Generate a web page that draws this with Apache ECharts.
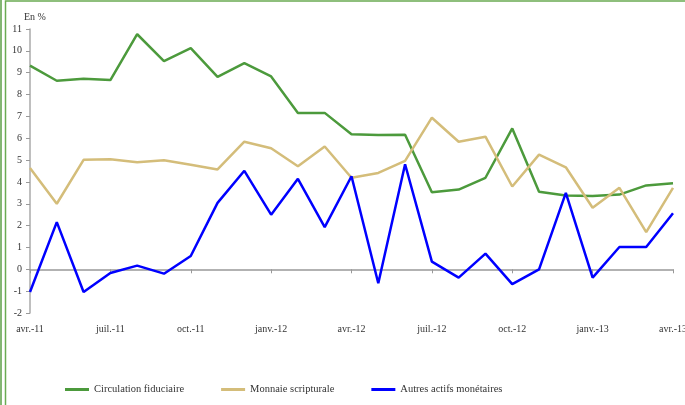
<!DOCTYPE html>
<html>
<head>
<meta charset="utf-8">
<script src="https://cdn.jsdelivr.net/npm/echarts@6/dist/echarts.min.js"></script>
<style>
html,body{margin:0;padding:0;background:#fff;}
#c{width:685px;height:405px;}
</style>
</head>
<body>
<div id="c"></div>
<script>
const months = ['avr.-11','mai-11','juin-11','juil.-11','août-11','sept.-11','oct.-11','nov.-11','déc.-11',
  'janv.-12','févr.-12','mars-12','avr.-12','mai-12','juin-12','juil.-12','août-12','sept.-12','oct.-12','nov.-12','déc.-12',
  'janv.-13','févr.-13','mars-13','avr.-13'];
const circulationFiduciaire = [9.32,8.63,8.72,8.66,10.76,9.53,10.12,8.81,9.44,8.83,7.16,7.16,6.18,6.15,6.16,3.53,3.65,4.19,6.45,3.55,3.38,3.36,3.42,3.84,3.94];
const monnaieScripturale = [4.64,3.00,5.01,5.04,4.90,4.99,4.79,4.57,5.84,5.54,4.72,5.62,4.19,4.41,4.96,6.94,5.84,6.07,3.79,5.25,4.67,2.82,3.73,1.70,3.73];
const autresActifs = [-1.04,2.16,-1.04,-0.17,0.17,-0.20,0.61,3.04,4.51,2.50,4.14,1.93,4.26,-0.64,4.81,0.35,-0.38,0.72,-0.68,0.00,3.50,-0.38,1.02,1.02,2.57];
const seriesNames = ['Circulation fiduciaire','Monnaie scripturale','Autres actifs monétaires'];
const unitLabel = 'En %';

const font = 'Liberation Serif';
const txt = '#333333';
const chart = echarts.init(document.getElementById('c'), null, {renderer:'canvas'});
chart.setOption({
  animation:false,
  backgroundColor:'#ffffff',
  graphic:[
    {type:'line', shape:{x1:1,y1:0,x2:1,y2:405}, style:{stroke:'#5a9e45',lineWidth:1.5}},
    {type:'rect', shape:{x:5.5,y:1,width:720,height:500}, style:{fill:'none',stroke:'#6aab52',lineWidth:1.5}}
  ],
  title:{text:unitLabel,left:19,top:7,textStyle:{fontFamily:font,fontSize:10,fontWeight:'normal',color:txt}},
  legend:{
    left:60, top:379, itemGap:37, itemWidth:24, itemHeight:3,
    icon:'rect',
    textStyle:{fontFamily:font,fontSize:10.5,color:txt},
    data:seriesNames
  },
  grid:{left:30,right:12,top:29,bottom:92,containLabel:false,outerBoundsMode:'none'},
  xAxis:{
    type:'category', data:months, boundaryGap:false,
    axisLine:{onZero:true,lineStyle:{color:'#999999',width:1.5}},
    axisTick:{show:true,interval:2,length:4,lineStyle:{color:'#999999'}},
    axisLabel:{interval:2,margin:11,fontFamily:font,fontSize:10,color:txt,showMaxLabel:true}
  },
  yAxis:{
    type:'value', min:-2, max:11, interval:1,
    splitLine:{show:false},
    axisLine:{show:true,lineStyle:{color:'#aaaaaa',width:1.5}},
    axisTick:{show:true,length:4,lineStyle:{color:'#999999'}},
    axisLabel:{fontFamily:font,fontSize:10,color:txt,margin:8}
  },
  series:[
    {name:seriesNames[0],type:'line',data:circulationFiduciaire,symbol:'none',lineStyle:{color:'#4c9a3c',width:2.5},itemStyle:{color:'#4c9a3c'}},
    {name:seriesNames[1],type:'line',data:monnaieScripturale,symbol:'none',lineStyle:{color:'#d4bd7a',width:2.5},itemStyle:{color:'#d4bd7a'}},
    {name:seriesNames[2],type:'line',data:autresActifs,symbol:'none',lineStyle:{color:'#0000ff',width:2.5},itemStyle:{color:'#0000ff'}}
  ]
});
</script>
</body>
</html>
